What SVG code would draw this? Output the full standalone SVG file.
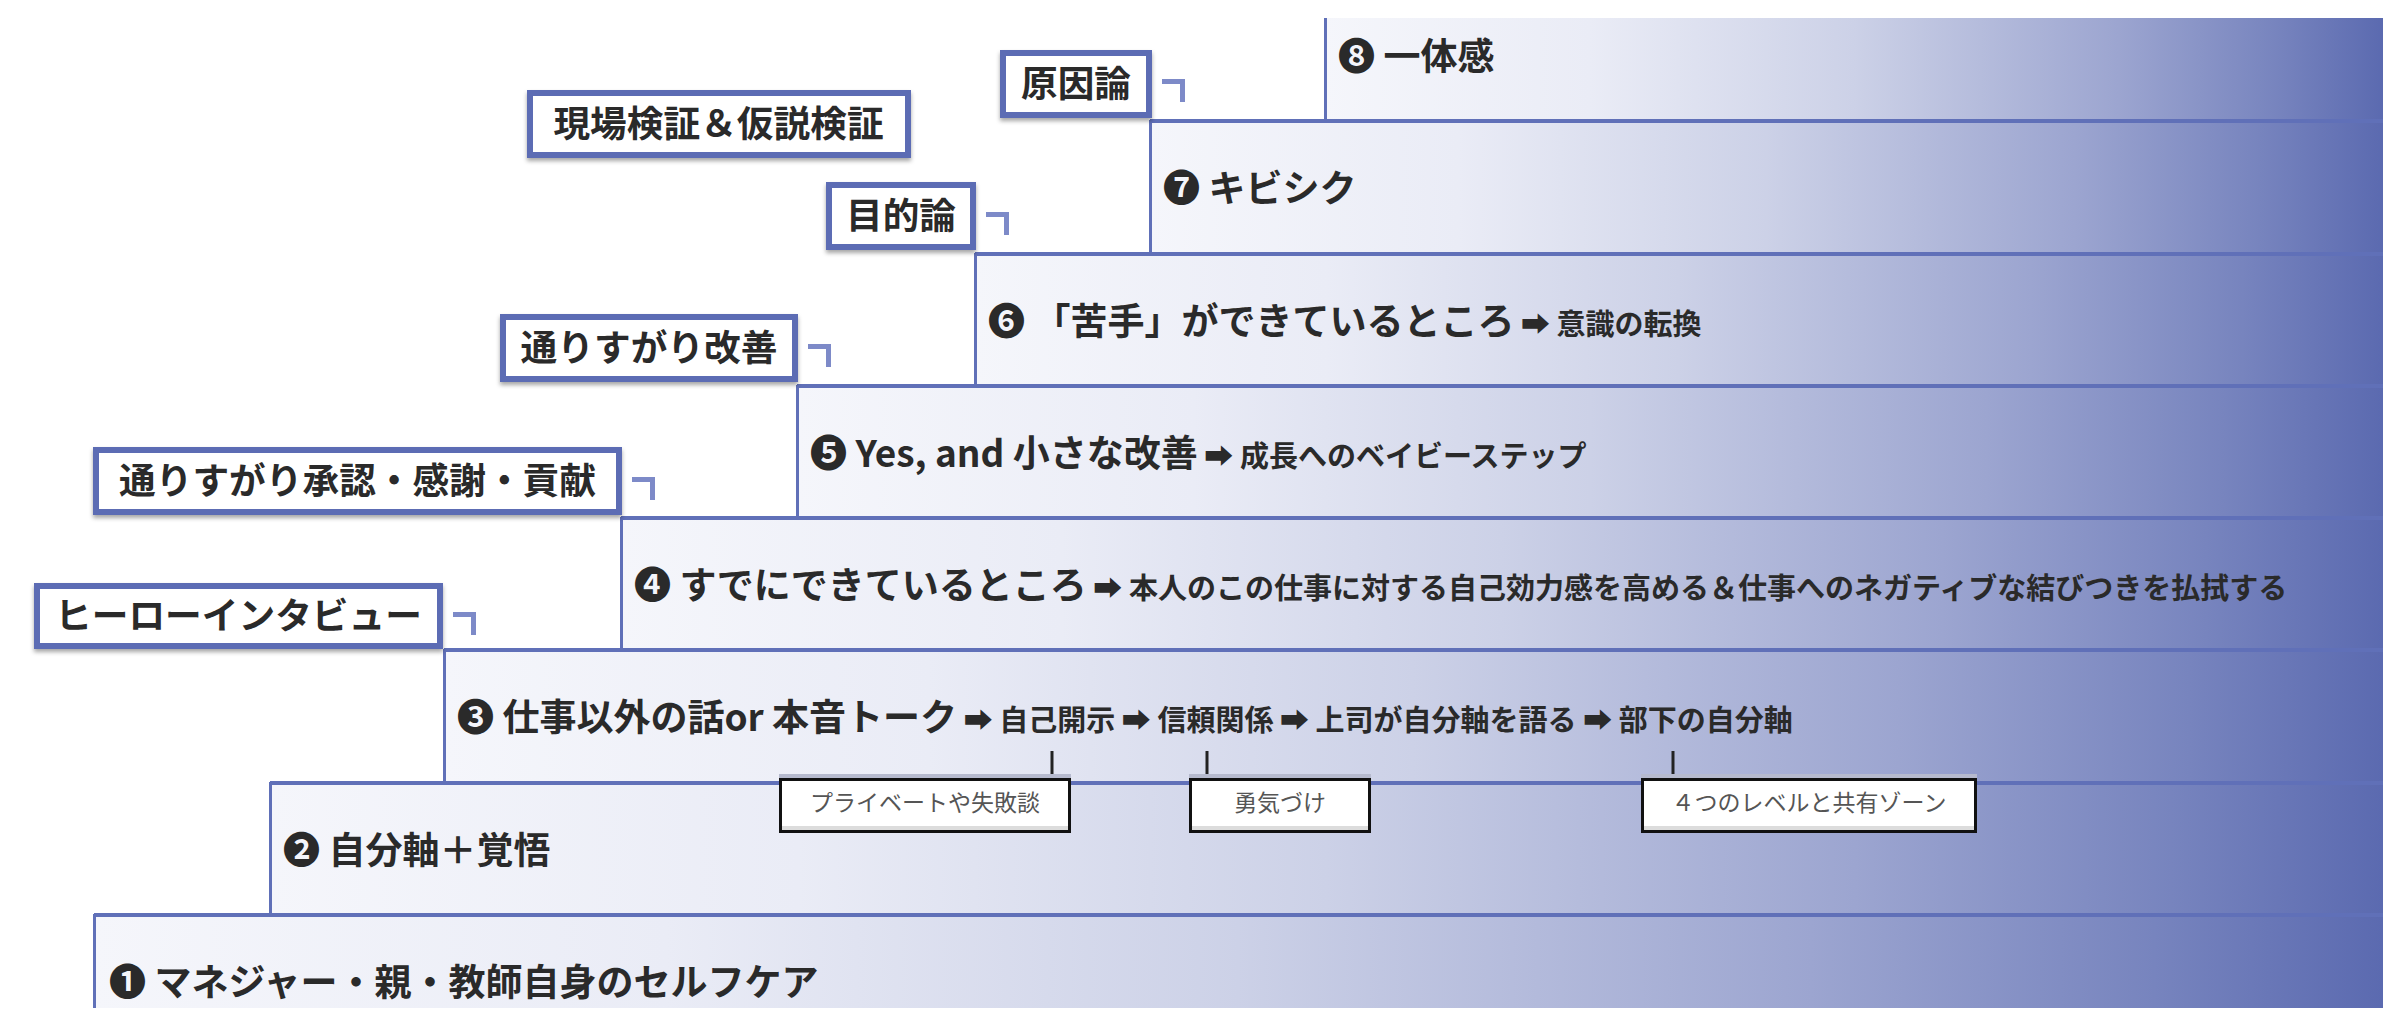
<svg xmlns="http://www.w3.org/2000/svg" width="2400" height="1026" viewBox="0 0 2400 1026">
<defs>
<linearGradient id="g" x1="0" y1="0" x2="1" y2="0">
<stop offset="0" stop-color="#f5f6fb"/>
<stop offset="0.25" stop-color="#eaecf6"/>
<stop offset="0.5" stop-color="#ccd1e7"/>
<stop offset="0.75" stop-color="#9ca5d0"/>
<stop offset="0.9" stop-color="#7784be"/>
<stop offset="1" stop-color="#5b6ab0"/>
</linearGradient>
<filter id="sh" x="-10%" y="-20%" width="120%" height="160%">
<feDropShadow dx="0" dy="3" stdDeviation="2" flood-color="#000" flood-opacity="0.35"/>
</filter>
</defs>
<style>
.band{fill:url(#g);stroke:none}
.hl{stroke:#6070b8;stroke-width:4;fill:none}
.vl{stroke:#6070b8;stroke-width:3;fill:none}
.main{font-family:"Noto Sans CJK JP","Noto Sans",sans-serif;font-weight:700;font-size:37px;fill:#2a2a2a}
.sub{font-size:29px}
.lbox{fill:#fff;stroke:#5c6cb4;stroke-width:6}
.lbot{fill:#5c6cb4}
.ltxt{font-family:"Noto Sans CJK JP","Noto Sans",sans-serif;font-weight:700;font-size:36.7px;fill:#2a2a2a;text-anchor:middle}
.brk{stroke:#7d8ac8;stroke-width:5;fill:none}
.cbox{fill:#fff;stroke:#111;stroke-width:3}
.cshade{fill:#b6bace}
.cinner{fill:#dcdcdc}
.ctxt{font-family:"Noto Sans CJK JP","Noto Sans",sans-serif;font-size:23px;fill:#555;text-anchor:middle}
.lead{stroke:#222;stroke-width:3;fill:none}
</style>

<g id="step8">
<rect class="band" x="1325" y="18" width="1058" height="102"/>
<line class="vl" x1="1325.5" y1="18" x2="1325.5" y2="120"/>
<text class="main" x="1338" y="70">❽ 一体感</text>
</g>
<g id="step7">
<rect class="band" x="1150" y="120" width="1233" height="133"/>
<line class="hl" x1="1150" y1="121" x2="2383" y2="121"/>
<line class="vl" x1="1150.5" y1="120" x2="1150.5" y2="253"/>
<text class="main" x="1163" y="202">❼ キビシク</text>
</g>
<g id="step6">
<rect class="band" x="975" y="253" width="1408" height="132"/>
<line class="hl" x1="975" y1="254" x2="2383" y2="254"/>
<line class="vl" x1="975.5" y1="253" x2="975.5" y2="385"/>
<text class="main" x="988" y="335">❻ 「苦手」ができているところ<tspan class="sub"> ➡ 意識の転換</tspan></text>
</g>
<g id="step5">
<rect class="band" x="797" y="385" width="1586" height="132"/>
<line class="hl" x1="797" y1="386" x2="2383" y2="386"/>
<line class="vl" x1="797.5" y1="385" x2="797.5" y2="517"/>
<text class="main" x="810" y="467">❺ Yes, and 小さな改善<tspan class="sub"> ➡ 成長へのベイビーステップ</tspan></text>
</g>
<g id="step4">
<rect class="band" x="621" y="517" width="1762" height="132"/>
<line class="hl" x1="621" y1="518" x2="2383" y2="518"/>
<line class="vl" x1="621.5" y1="517" x2="621.5" y2="649"/>
<text class="main" x="634" y="599">❹ すでにできているところ<tspan class="sub"> ➡ 本人のこの仕事に対する自己効力感を高める＆仕事へのネガティブな結びつきを払拭する</tspan></text>
</g>
<g id="step3">
<rect class="band" x="444" y="649" width="1939" height="133"/>
<line class="hl" x1="444" y1="650" x2="2383" y2="650"/>
<line class="vl" x1="444.5" y1="649" x2="444.5" y2="782"/>
<text class="main" x="457" y="731">❸ 仕事以外の話or 本音トーク<tspan class="sub"> ➡ 自己開示 ➡ 信頼関係 ➡ 上司が自分軸を語る ➡ 部下の自分軸</tspan></text>
</g>
<g id="step2">
<rect class="band" x="270" y="782" width="2113" height="132"/>
<line class="hl" x1="270" y1="783" x2="2383" y2="783"/>
<line class="vl" x1="270.5" y1="782" x2="270.5" y2="914"/>
<text class="main" x="283" y="864">❷ 自分軸＋覚悟</text>
</g>
<g id="step1">
<rect class="band" x="94" y="914" width="2289" height="94"/>
<line class="hl" x1="94" y1="915" x2="2383" y2="915"/>
<line class="vl" x1="94.5" y1="914" x2="94.5" y2="1008"/>
<text class="main" x="109" y="996">❶ マネジャー・親・教師自身のセルフケア</text>
</g>

<g id="label-genin">
<rect class="lbox" x="1003" y="53" width="146" height="62" filter="url(#sh)"/>
<rect class="lbot" x="1000" y="114" width="152" height="4"/>
<text class="ltxt" x="1076" y="97">原因論</text>
<path class="brk" d="M1162 81.5H1182.5V102"/>
</g>
<g id="label-genba">
<rect class="lbox" x="530" y="93" width="378" height="62" filter="url(#sh)"/>
<rect class="lbot" x="527" y="154" width="384" height="4"/>
<text class="ltxt" x="718.5" y="137">現場検証＆仮説検証</text>
</g>
<g id="label-mokuteki">
<rect class="lbox" x="829" y="185" width="144" height="62" filter="url(#sh)"/>
<rect class="lbot" x="826" y="246" width="150" height="4"/>
<text class="ltxt" x="901" y="229">目的論</text>
<path class="brk" d="M986 214.5H1006.5V235"/>
</g>
<g id="label-kaizen">
<rect class="lbox" x="503" y="317" width="292" height="62" filter="url(#sh)"/>
<rect class="lbot" x="500" y="378" width="298" height="4"/>
<text class="ltxt" x="649" y="361">通りすがり改善</text>
<path class="brk" d="M808 346.5H828.5V367"/>
</g>
<g id="label-shounin">
<rect class="lbox" x="96" y="450" width="523" height="62" filter="url(#sh)"/>
<rect class="lbot" x="93" y="511" width="529" height="4"/>
<text class="ltxt" x="357.5" y="494">通りすがり承認・感謝・貢献</text>
<path class="brk" d="M632 479.5H652.5V500"/>
</g>
<g id="label-hero">
<rect class="lbox" x="37" y="586" width="403" height="60" filter="url(#sh)"/>
<rect class="lbot" x="34" y="645" width="409" height="4"/>
<text class="ltxt" x="238.5" y="629">ヒーローインタビュー</text>
<path class="brk" d="M453 614.5H473.5V635"/>
</g>

<g id="connectors">
<line class="lead" x1="1052" y1="751" x2="1052" y2="778"/>
<line class="lead" x1="1207" y1="751" x2="1207" y2="778"/>
<line class="lead" x1="1673" y1="751" x2="1673" y2="778"/>
</g>

<g id="note-private">
<rect class="cshade" x="779" y="774" width="292" height="4"/>
<rect class="cbox" x="780.5" y="779.5" width="289" height="52"/>
<rect class="cinner" x="782" y="826" width="286" height="4"/>
<text class="ctxt" x="925" y="811">プライベートや失敗談</text>
</g>
<g id="note-yuuki">
<rect class="cshade" x="1189" y="774" width="182" height="4"/>
<rect class="cbox" x="1190.5" y="779.5" width="179" height="52"/>
<rect class="cinner" x="1192" y="826" width="176" height="4"/>
<text class="ctxt" x="1280" y="811">勇気づけ</text>
</g>
<g id="note-level">
<rect class="cshade" x="1641" y="774" width="336" height="4"/>
<rect class="cbox" x="1642.5" y="779.5" width="333" height="52"/>
<rect class="cinner" x="1644" y="826" width="330" height="4"/>
<text class="ctxt" x="1809" y="811">４つのレベルと共有ゾーン</text>
</g>
</svg>
